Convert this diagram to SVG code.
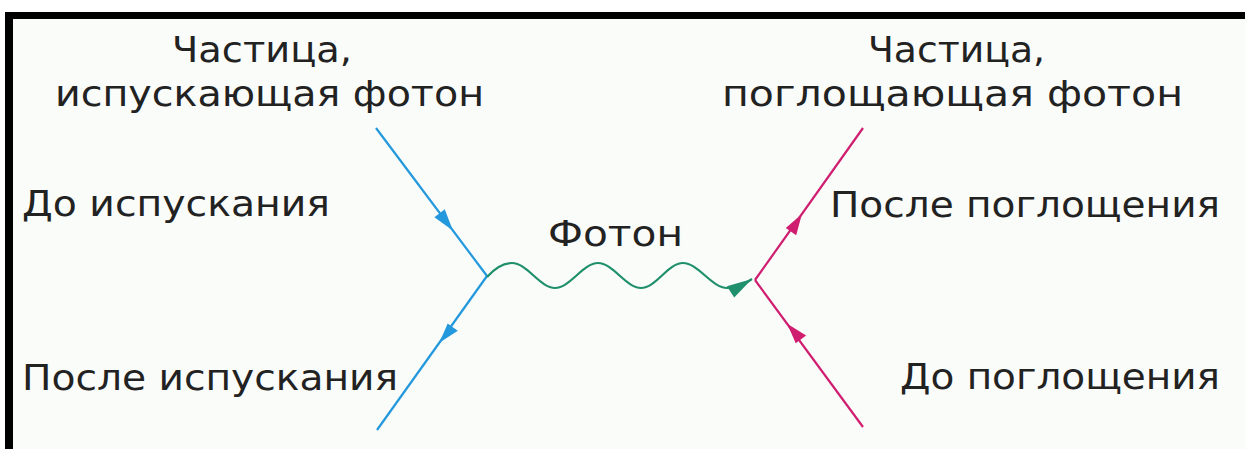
<svg xmlns="http://www.w3.org/2000/svg" width="1245" height="449" viewBox="0 0 1245 449">
<defs>
<style>
.t{font-family:"DejaVu Sans","Liberation Sans",sans-serif;font-size:35px;fill:#222}
.blue{stroke:#2398dc;stroke-width:2.2;fill:none}
.mag{stroke:#cf1d6f;stroke-width:2.2;fill:none}
.grn{stroke:#1f8f6c;stroke-width:2.2;fill:none}
</style>
</defs>
<rect x="0" y="0" width="1245" height="449" fill="#ffffff"/>
<rect x="13" y="19" width="1232" height="430" fill="#fafcfa"/>
<rect x="5" y="12" width="1240" height="7" fill="#000"/>
<rect x="5" y="12" width="8" height="437" fill="#000"/>
<g id="connectors">
<path class="blue" d="M376,128 L487,276"/>
<path class="blue" d="M487,276 L377,430"/>
<path class="mag" d="M755,280 L863,128"/>
<path class="mag" d="M755,280 L863,427"/>
<path class="grn" d="M487,277 C495,268 503,263 512,263 C527,263 540,288 555,288 C570,288 583,263 598,263 C613,263 626,288 641,288 C656,288 668,263 683,263 C698,263 712,288 727,288 C736,288 745,284 752,279"/>
<polygon fill="#2398dc" points="452.8,230.4 444.8,209.2 434.4,217.2"/>
<polygon fill="#2398dc" points="439.3,342.8 457.8,330.7 447.7,323.5"/>
<polygon fill="#cf1d6f" points="801.9,214 796.2,235.3 785.8,228"/>
<polygon fill="#cf1d6f" points="787.2,323.8 806.1,335.6 795.7,343.3"/>
<polygon fill="#1f8f6c" points="752,279 734.2,297.5 726.9,286.2"/>
</g>
<g id="emitter">
<text class="t" x="172" y="62" textLength="180" lengthAdjust="spacingAndGlyphs">Частица,</text>
<text class="t" x="55" y="106" textLength="429" lengthAdjust="spacingAndGlyphs">испускающая фотон</text>
</g>
<g id="absorber">
<text class="t" x="868" y="62" textLength="177" lengthAdjust="spacingAndGlyphs">Частица,</text>
<text class="t" x="722" y="106" textLength="461" lengthAdjust="spacingAndGlyphs">поглощающая фотон</text>
</g>
<g id="before-emission"><text class="t" x="22" y="216" textLength="308" lengthAdjust="spacingAndGlyphs">До испускания</text></g>
<g id="after-emission"><text class="t" x="22" y="390" textLength="376" lengthAdjust="spacingAndGlyphs">После испускания</text></g>
<g id="photon"><text class="t" x="548" y="246" textLength="135" lengthAdjust="spacingAndGlyphs">Фотон</text></g>
<g id="after-absorption"><text class="t" x="830" y="217" textLength="390" lengthAdjust="spacingAndGlyphs">После поглощения</text></g>
<g id="before-absorption"><text class="t" x="900" y="389" textLength="320" lengthAdjust="spacingAndGlyphs">До поглощения</text></g>
</svg>
